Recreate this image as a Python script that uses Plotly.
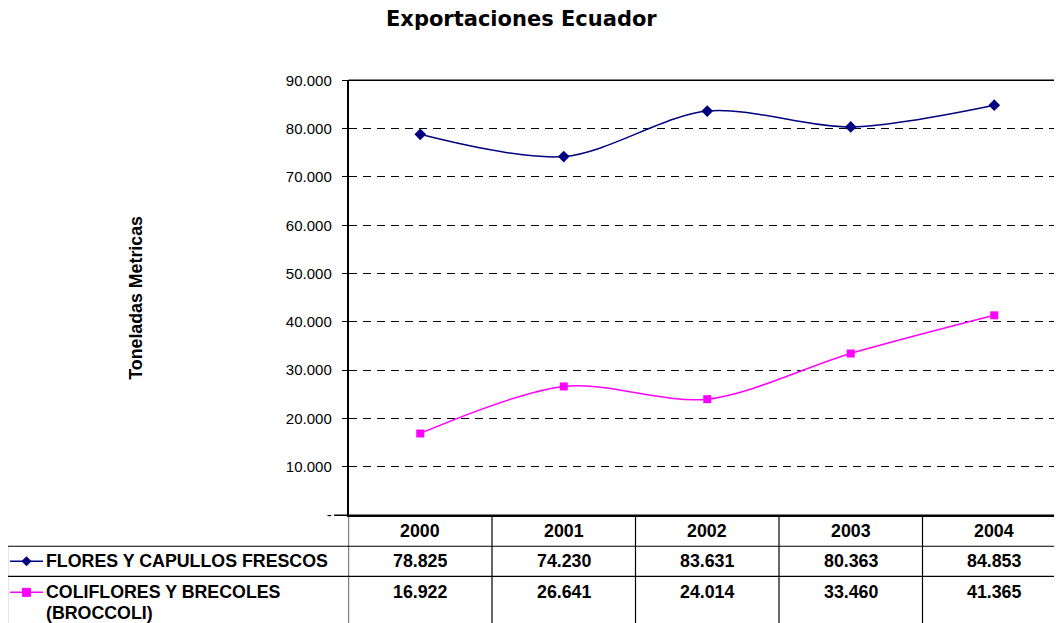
import plotly.graph_objects as go

years = ["2000", "2001", "2002", "2003", "2004"]
flores = [78825, 74230, 83631, 80363, 84853]
coliflores = [16922, 26641, 24014, 33460, 41365]
series_names = ["FLORES Y CAPULLOS FRESCOS", "COLIFLORES Y BRECOLES<br>(BROCCOLI)"]
tick_vals = [0, 10000, 20000, 30000, 40000, 50000, 60000, 70000, 80000, 90000]
tick_text = ["-", "10.000", "20.000", "30.000", "40.000", "50.000", "60.000", "70.000", "80.000", "90.000"]

# observed page mapping: screen_x = 8 + fig_x ; screen_y = 16.8 + 0.971 * fig_y
OX = 8
OY, SY = 16.8, 0.971
W, H = 1054, 628
FONT = "Liberation Sans, Arial, sans-serif"
TFONT = "DejaVu Sans, Liberation Sans, sans-serif"
NAVY = "#000080"
MAG = "#FF00FF"


def fx(x):
    return (x - OX) / W


def fy(y):
    return 1 - ((y - OY) / SY) / H


AX_L, AX_T, AX_B = 348.5, 80, 514
cat_w = 143.5
x_hi = -0.5 + (OX + W - AX_L) / cat_w

xi = list(range(len(years)))

fig = go.Figure()
fig.add_trace(go.Scatter(x=xi, y=flores, mode="lines+markers", name=series_names[0],
                         line=dict(color=NAVY, width=1.5, shape="spline", smoothing=0.9),
                         marker=dict(symbol="diamond", size=9, color=NAVY)))
fig.add_trace(go.Scatter(x=xi, y=coliflores, mode="lines+markers", name=series_names[1],
                         line=dict(color=MAG, width=1.5, shape="spline", smoothing=0.9),
                         marker=dict(symbol="square", size=8, color=MAG)))

shapes = []
annotations = []

# top border
shapes.append(dict(type="line", xref="paper", yref="paper", x0=fx(AX_L), x1=1, y0=fy(AX_T), y1=fy(AX_T),
                   line=dict(color="black", width=1.5)))
# table header top line
shapes.append(dict(type="line", xref="paper", yref="paper", x0=fx(334), x1=1, y0=fy(AX_B), y1=fy(AX_B),
                   line=dict(color="black", width=1.5)))
for yy in [545, 575]:
    shapes.append(dict(type="line", xref="paper", yref="paper", x0=fx(7), x1=1, y0=fy(yy), y1=fy(yy),
                       line=dict(color="black", width=1.2)))
# left border of table
shapes.append(dict(type="line", xref="paper", yref="paper", x0=fx(7.5), x1=fx(7.5), y0=fy(545), y1=0,
                   line=dict(color="black", width=1.2)))
# vertical column lines
for i in range(len(years)):
    shapes.append(dict(type="line", xref="x", yref="paper", x0=i - 0.5, x1=i - 0.5, y0=fy(AX_B), y1=0,
                       line=dict(color="black", width=1.2)))

TS = 17.8
# header years
for i, yr in enumerate(years):
    annotations.append(dict(x=i, y=fy(530), xref="x", yref="paper", text="<b>%s</b>" % yr,
                            showarrow=False, font=dict(family=FONT, size=TS, color="black"),
                            xanchor="center", yanchor="middle"))


def fmt(v):
    return "{:,}".format(v).replace(",", ".")


rows = [(flores, series_names[0], NAVY, "diamond", 560), (coliflores, series_names[1], MAG, "square", 591)]
for vals, name, col, sym, yy in rows:
    for i, v in enumerate(vals):
        annotations.append(dict(x=i, y=fy(yy), xref="x", yref="paper", text="<b>%s</b>" % fmt(v),
                                showarrow=False, font=dict(family=FONT, size=TS, color="black"),
                                xanchor="center", yanchor="middle"))
    for k, part in enumerate(name.split("<br>")):
        annotations.append(dict(x=fx(44), y=fy(yy + 21 * k), xref="paper", yref="paper", text="<b>%s</b>" % part,
                                showarrow=False, font=dict(family=FONT, size=TS, color="black"),
                                xanchor="left", yanchor="middle", align="left"))
    # legend key line
    shapes.append(dict(type="line", xref="paper", yref="paper", x0=fx(10), x1=fx(43), y0=fy(yy), y1=fy(yy),
                       line=dict(color=col, width=1.5)))
    if sym == "diamond":
        path = "M %f,%f L %f,%f L %f,%f L %f,%f Z" % (fx(26.5), fy(yy - 4.5), fx(31), fy(yy), fx(26.5), fy(yy + 4.5), fx(22), fy(yy))
    else:
        path = "M %f,%f L %f,%f L %f,%f L %f,%f Z" % (fx(22.5), fy(yy - 4), fx(30.5), fy(yy - 4), fx(30.5), fy(yy + 4), fx(22.5), fy(yy + 4))
    shapes.append(dict(type="path", xref="paper", yref="paper", path=path, fillcolor=col, line=dict(color=col, width=1)))

# title and y-axis title
annotations.append(dict(x=fx(521), y=fy(19), xref="paper", yref="paper", text="<b>Exportaciones Ecuador</b>",
                        showarrow=False, font=dict(family=TFONT, size=21, color="black"),
                        xanchor="center", yanchor="middle"))
annotations.append(dict(x=fx(136), y=fy(297), xref="paper", yref="paper", text="<b>Toneladas Metricas</b>",
                        showarrow=False, textangle=-90, font=dict(family=FONT, size=17.8, color="black"),
                        xanchor="center", yanchor="middle"))

fig.update_layout(
    width=W, height=H, autosize=False,
    margin=dict(l=0, r=0, t=0, b=0),
    paper_bgcolor="white", plot_bgcolor="white",
    showlegend=False,
    font=dict(family=FONT, size=15, color="black"),
    xaxis=dict(domain=[fx(AX_L), 1], range=[-0.5, x_hi], showticklabels=False, showgrid=False,
               zeroline=False, showline=True, linecolor="black", linewidth=1.5, ticks=""),
    yaxis=dict(domain=[fy(AX_B), fy(AX_T)], range=[0, 90000], tickvals=tick_vals, ticktext=tick_text,
               showgrid=True, gridcolor="black", gridwidth=1, griddash="8px,6px",
               zeroline=False, showline=True, linecolor="black", linewidth=1.5,
               ticks="outside", ticklen=5, tickcolor="black", ticklabelstandoff=7,
               tickfont=dict(family=FONT, size=15, color="black")),
    shapes=shapes,
    annotations=annotations,
)

fig.write_html("out.html")
